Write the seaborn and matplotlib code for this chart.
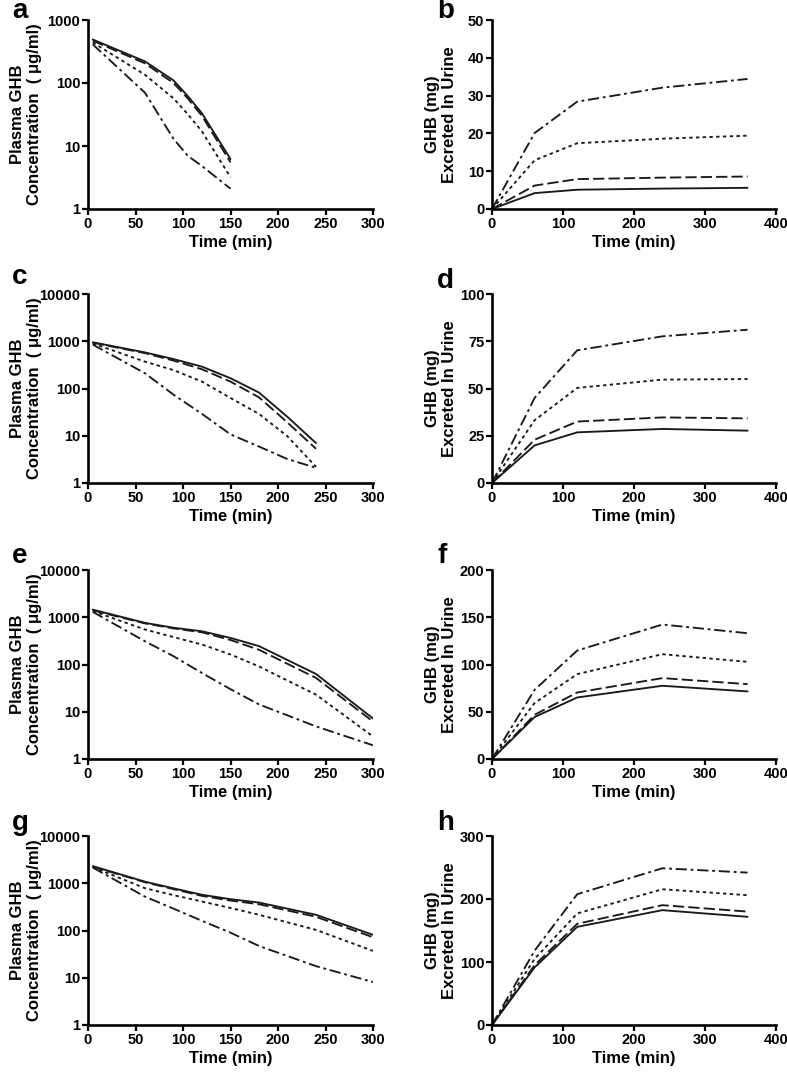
import numpy as np
import pandas as pd
import matplotlib
matplotlib.use("Agg")
import matplotlib.pyplot as plt
from matplotlib.ticker import FixedLocator, NullLocator, FuncFormatter
import seaborn as sns

# ---------------- data ----------------
series = ["S1", "S2", "S3", "S4"]  # solid, dashed, dotted, dash-dot

# Plasma concentration panels (log scale)
t_a = [5, 60, 90, 105, 120, 150]
a_s1 = [490, 220, 110, 62, 33, 6.2]
a_s2 = [470, 205, 100, 57, 30, 5.5]
a_s3 = [440, 135, 57, 32, 17, 3.2]
a_s4 = [410, 70, 13, 7, 4.8, 2.1]

t_c = [5, 60, 90, 120, 150, 180, 210, 240]
c_s1 = [950, 580, 420, 290, 165, 82, 25, 7]
c_s2 = [930, 560, 390, 255, 140, 65, 19, 5.3]
c_s3 = [900, 370, 245, 140, 63, 29, 9.7, 2.2]
c_s4 = [850, 210, 74, 29, 10.7, 5.9, 3.2, 2.1]

t_e = [5, 60, 90, 120, 150, 180, 240, 300]
e_s1 = [1450, 760, 600, 505, 365, 245, 63, 7.2]
e_s2 = [1400, 740, 580, 480, 330, 205, 52, 6.2]
e_s3 = [1350, 550, 380, 265, 163, 91, 23, 3.0]
e_s4 = [1300, 310, 150, 66, 30, 14.3, 4.9, 1.95]

t_g = [5, 60, 90, 120, 150, 180, 240, 300]
g_s1 = [2300, 1080, 780, 570, 460, 390, 215, 81]
g_s2 = [2250, 1050, 750, 540, 430, 360, 195, 72]
g_s3 = [2200, 785, 560, 410, 300, 215, 103, 37]
g_s4 = [2150, 520, 290, 160, 90, 47, 17.6, 8.1]

# Urinary excretion panels (linear)
t_u = [0, 60, 120, 240, 360]
b_s1 = [0, 4.2, 5.1, 5.4, 5.6]
b_s2 = [0, 6.2, 7.9, 8.3, 8.6]
b_s3 = [0, 12.9, 17.4, 18.6, 19.4]
b_s4 = [0, 20.1, 28.4, 32.1, 34.4]

d_s1 = [0, 19.9, 26.8, 28.6, 27.7]
d_s2 = [0, 22.9, 32.5, 34.7, 34.2]
d_s3 = [0, 33.2, 50.3, 54.7, 55.0]
d_s4 = [0, 45.0, 70.2, 77.6, 81.1]

f_s1 = [0, 44.4, 65.1, 77.5, 71.5]
f_s2 = [0, 46.8, 70.4, 85.6, 79.2]
f_s3 = [0, 59.2, 89.8, 110.9, 102.8]
f_s4 = [0, 73.2, 114.8, 142.3, 133.1]

h_s1 = [0, 91.4, 155.8, 182.3, 171.7]
h_s2 = [0, 95.0, 160.6, 190.2, 180.0]
h_s3 = [0, 105.0, 177.0, 215.5, 206.0]
h_s4 = [0, 118.0, 207.6, 248.8, 241.9]

plasma_yticks_a = [1, 10, 100, 1000]
plasma_yticks = [1, 10, 100, 1000, 10000]
plasma_xticks = [0, 50, 100, 150, 200, 250, 300]
urine_xticks = [0, 100, 200, 300, 400]
b_yticks = [0, 10, 20, 30, 40, 50]
d_yticks = [0, 25, 50, 75, 100]
f_yticks = [0, 50, 100, 150, 200]
h_yticks = [0, 100, 200, 300]

plasma_label = "Plasma GHB\nConcentration  ( \u03bcg/ml)"
urine_label = "GHB (mg)\nExcreted In Urine"
xlabel = "Time (min)"


def make_df(t, vals):
    rows = []
    for name, v in zip(series, vals):
        for ti, vi in zip(t, v):
            rows.append({"time": ti, "value": vi, "series": name})
    return pd.DataFrame(rows)


# ---------------- style ----------------
sns.set_style("ticks")
plt.rcParams["font.family"] = ["Liberation Sans", "DejaVu Sans"]
plt.rcParams["font.weight"] = "bold"
plt.rcParams["axes.labelweight"] = "bold"
plt.rcParams["text.color"] = "black"
plt.rcParams["axes.labelcolor"] = "black"
plt.rcParams["xtick.color"] = "black"
plt.rcParams["ytick.color"] = "black"

LINE = "#1a1a1a"
dash_map = {"S1": "", "S2": (6, 2.2), "S3": (1.8, 1.8), "S4": (6, 2, 1.5, 2)}

fig = plt.figure(figsize=(7.87, 10.72), dpi=100)
W, H = 787.0, 1072.0


def add_ax(left_px, top_px, w_px, h_px):
    return fig.add_axes([left_px / W, 1 - (top_px + h_px) / H, w_px / W, h_px / H])


def style_ax(ax, xticks, yticks, xlim, ylim, ylabel, log=False, ylabx=-0.16):
    ax.set_xlim(*xlim)
    ax.set_ylim(*ylim)
    if log:
        ax.set_yscale("log")
        ax.yaxis.set_major_locator(FixedLocator(yticks))
        ax.yaxis.set_minor_locator(NullLocator())
        ax.yaxis.set_major_formatter(FuncFormatter(lambda v, p: f"{int(round(v))}"))
    else:
        ax.set_yticks(yticks)
    ax.set_xticks(xticks)
    for s in ["top", "right"]:
        ax.spines[s].set_visible(False)
    for s in ["left", "bottom"]:
        ax.spines[s].set_linewidth(1.9)
        ax.spines[s].set_color("black")
    ax.tick_params(axis="both", which="major", direction="out", length=4, width=1.6,
                   labelsize=10.5, pad=1.5, colors="black", labelcolor="black")
    for lab in ax.get_xticklabels() + ax.get_yticklabels():
        lab.set_fontweight("bold")
    ax.set_xlabel(xlabel, fontsize=12, fontweight="bold", color="black")
    ax.xaxis.set_label_coords(0.5, -0.14)
    ax.set_ylabel(ylabel, fontsize=12, fontweight="bold", linespacing=1.15, color="black")
    ax.yaxis.set_label_coords(ylabx, 0.5)


def draw(ax, t, vals):
    df = make_df(t, vals)
    sns.lineplot(data=df, x="time", y="value", style="series", dashes=dash_map,
                 color=LINE, linewidth=1.35, legend=False, ax=ax, sort=False)


LX, RX = 88, 492
AW_L, AW_R = 285, 284
AH = 189
tops = [20, 294, 570, 836]

panels = [
    ("L", 0, t_a, [a_s1, a_s2, a_s3, a_s4], True, plasma_xticks, plasma_yticks_a, (0, 300), (1, 1000), plasma_label),
    ("R", 0, t_u, [b_s1, b_s2, b_s3, b_s4], False, urine_xticks, b_yticks, (0, 400), (0, 50), urine_label),
    ("L", 1, t_c, [c_s1, c_s2, c_s3, c_s4], True, plasma_xticks, plasma_yticks, (0, 300), (1, 10000), plasma_label),
    ("R", 1, t_u, [d_s1, d_s2, d_s3, d_s4], False, urine_xticks, d_yticks, (0, 400), (0, 100), urine_label),
    ("L", 2, t_e, [e_s1, e_s2, e_s3, e_s4], True, plasma_xticks, plasma_yticks, (0, 300), (1, 10000), plasma_label),
    ("R", 2, t_u, [f_s1, f_s2, f_s3, f_s4], False, urine_xticks, f_yticks, (0, 400), (0, 200), urine_label),
    ("L", 3, t_g, [g_s1, g_s2, g_s3, g_s4], True, plasma_xticks, plasma_yticks, (0, 300), (1, 10000), plasma_label),
    ("R", 3, t_u, [h_s1, h_s2, h_s3, h_s4], False, urine_xticks, h_yticks, (0, 400), (0, 300), urine_label),
]

letters = ["a", "b", "c", "d", "e", "f", "g", "h"]
letter_base = [18, 18, 284, 288, 563, 563, 830, 830]

for i, (col, row, t, vals, log, xt, yt, xl, yl, lab) in enumerate(panels):
    if col == "L":
        ax = add_ax(LX, tops[row], AW_L, AH)
        ylx = -(88 - 42) / AW_L
        lx = 12
    else:
        ax = add_ax(RX, tops[row], AW_R, AH)
        ylx = -(492 - 457) / AW_R
        lx = 437
    draw(ax, t, vals)
    style_ax(ax, xt, yt, xl, yl, lab, log=log, ylabx=ylx)
    fig.text(lx / W, 1 - letter_base[i] / H, letters[i], fontsize=20, fontweight="bold",
             va="baseline", ha="left", color="black")

fig.savefig("out.png", dpi=100, facecolor="white")
